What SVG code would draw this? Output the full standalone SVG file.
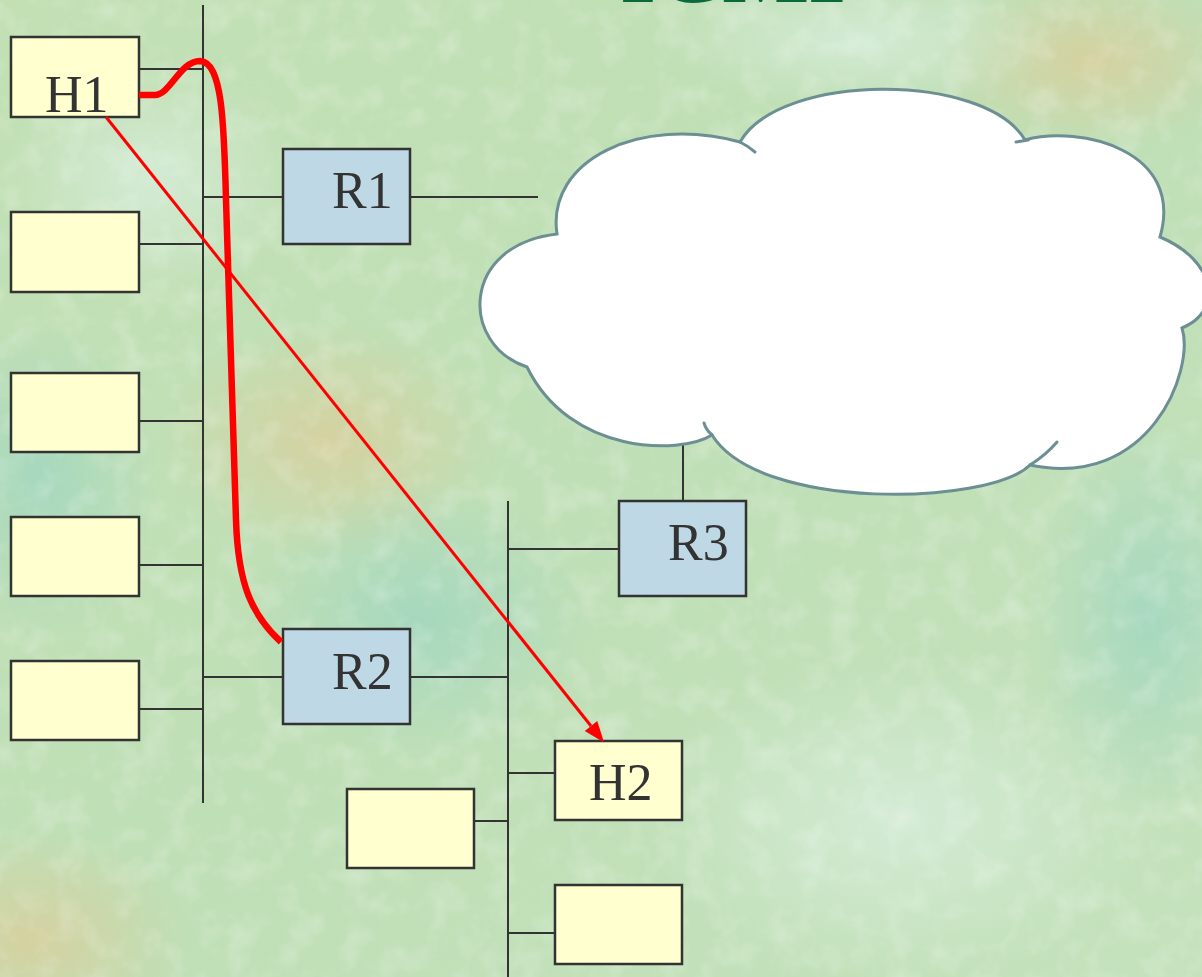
<svg xmlns="http://www.w3.org/2000/svg" width="1202" height="977" viewBox="0 0 1202 977">
<defs>
<style>
.host{fill:#ffffd0;stroke:#333;stroke-width:2.5}
.rtr{fill:#bfd8e5;stroke:#333;stroke-width:2.5}
.wire{stroke:#333;stroke-width:2;fill:none}
.lbl{font-family:"Liberation Serif","Times New Roman",serif;font-size:52px;fill:#333}
.cloud{fill:#fff;stroke:#6c8f94;stroke-width:3;stroke-linecap:round}
.tail{fill:none;stroke:#6c8f94;stroke-width:3;stroke-linecap:round}
</style>
<linearGradient id="bg" x1="0" y1="0" x2="1" y2="1">
<stop offset="0" stop-color="#c2e0b4"/>
<stop offset="0.5" stop-color="#bfdfb6"/>
<stop offset="1" stop-color="#c4e2bc"/>
</linearGradient>
<radialGradient id="tan"><stop offset="0" stop-color="#d9cf9c" stop-opacity="0.85"/><stop offset="1" stop-color="#d9cf9c" stop-opacity="0"/></radialGradient>
<radialGradient id="teal"><stop offset="0" stop-color="#9fd6c0" stop-opacity="0.8"/><stop offset="1" stop-color="#9fd6c0" stop-opacity="0"/></radialGradient>
<radialGradient id="pale"><stop offset="0" stop-color="#d6ecd8" stop-opacity="0.9"/><stop offset="1" stop-color="#d6ecd8" stop-opacity="0"/></radialGradient>
<filter id="tex" x="0" y="0" width="100%" height="100%">
<feTurbulence type="fractalNoise" baseFrequency="0.035" numOctaves="3" seed="7"/>
<feColorMatrix type="matrix" values="0 0 0 0 1  0 0 0 0 1  0 0 0 0 1  0 0 0 -2 1.1"/>
</filter>
<marker id="ah" markerUnits="userSpaceOnUse" markerWidth="22" markerHeight="18" refX="0" refY="8" orient="auto" overflow="visible">
<path d="M0,0 L21,8 L0,16 z" fill="#ff0000"/>
</marker>
</defs>

<g id="background">
<rect width="1202" height="977" fill="url(#bg)"/>
<ellipse cx="330" cy="440" rx="170" ry="120" fill="url(#tan)"/>
<ellipse cx="1090" cy="60" rx="160" ry="90" fill="url(#tan)"/>
<ellipse cx="30" cy="940" rx="160" ry="110" fill="url(#tan)"/>
<ellipse cx="420" cy="620" rx="170" ry="140" fill="url(#teal)"/>
<ellipse cx="40" cy="480" rx="120" ry="160" fill="url(#teal)"/>
<ellipse cx="1150" cy="620" rx="120" ry="200" fill="url(#teal)"/>
<ellipse cx="860" cy="40" rx="200" ry="70" fill="url(#pale)"/>
<ellipse cx="900" cy="820" rx="260" ry="160" fill="url(#pale)"/>
<ellipse cx="150" cy="180" rx="150" ry="120" fill="url(#pale)"/>
<rect width="1202" height="977" filter="url(#tex)" opacity="0.25"/>
<text x="620" y="2" font-family="Liberation Serif, serif" font-weight="bold" font-size="92" fill="#0b6a3c">ICMP</text>
</g>

<g id="connectors">
<line class="wire" x1="203" y1="5" x2="203" y2="803"/>
<line class="wire" x1="508" y1="501" x2="508" y2="977"/>
<line class="wire" x1="139" y1="69" x2="203" y2="69"/>
<line class="wire" x1="139" y1="244" x2="203" y2="244"/>
<line class="wire" x1="139" y1="421" x2="203" y2="421"/>
<line class="wire" x1="139" y1="565" x2="203" y2="565"/>
<line class="wire" x1="139" y1="709" x2="203" y2="709"/>
<line class="wire" x1="203" y1="197" x2="283" y2="197"/>
<line class="wire" x1="410" y1="197" x2="538" y2="197"/>
<line class="wire" x1="203" y1="677" x2="283" y2="677"/>
<line class="wire" x1="410" y1="677" x2="508" y2="677"/>
<line class="wire" x1="508" y1="549" x2="619" y2="549"/>
<line class="wire" x1="683" y1="437" x2="683" y2="501"/>
<line class="wire" x1="508" y1="773" x2="555" y2="773"/>
<line class="wire" x1="474" y1="821" x2="508" y2="821"/>
<line class="wire" x1="508" y1="933" x2="555" y2="933"/>
</g>

<g id="cloud">
<path class="cloud" d="M557,234 C546,160 640,115 740,142 C780,72 985,72 1025,140 C1080,125 1185,150 1160,237 C1215,260 1225,310 1182,328 C1195,370 1150,490 1030,465 C990,505 760,512 712,435 C680,455 570,455 527,367 C460,345 460,245 557,234 Z"/>
<path class="tail" d="M740,142 Q748,146 755,152"/>
<path class="tail" d="M1016,142 L1028,140"/>
<path class="tail" d="M1030,465 Q1046,455 1057,442"/>
<path class="tail" d="M712,435 Q706,430 704,423"/>
</g>

<g id="H1"><rect class="host" x="11" y="37" width="128" height="80"/><text class="lbl" x="45" y="112">H1</text></g>
<g id="host-a"><rect class="host" x="11" y="212" width="128" height="80"/></g>
<g id="host-b"><rect class="host" x="11" y="373" width="128" height="79"/></g>
<g id="host-c"><rect class="host" x="11" y="517" width="128" height="79"/></g>
<g id="host-d"><rect class="host" x="11" y="661" width="128" height="79"/></g>
<g id="R1"><rect class="rtr" x="283" y="149" width="127" height="95"/><text class="lbl" x="332" y="208">R1</text></g>
<g id="R2"><rect class="rtr" x="283" y="629" width="127" height="95"/><text class="lbl" x="332" y="689">R2</text></g>
<g id="R3"><rect class="rtr" x="619" y="501" width="127" height="95"/><text class="lbl" x="668" y="560">R3</text></g>
<g id="H2"><rect class="host" x="555" y="741" width="127" height="79"/><text class="lbl" x="589" y="800">H2</text></g>
<g id="host-e"><rect class="host" x="347" y="789" width="127" height="79"/></g>
<g id="host-f"><rect class="host" x="555" y="885" width="127" height="79"/></g>

<g id="paths">
<path d="M139,95 L155,95 C170,95 180,61 200,61 C222,62 224,120 226,200 L236,520 C238,585 252,615 281,642" fill="none" stroke="#ff0000" stroke-width="6.5"/>
<line x1="106" y1="117" x2="591" y2="726" stroke="#ff0000" stroke-width="3" marker-end="url(#ah)"/>
</g>
</svg>
